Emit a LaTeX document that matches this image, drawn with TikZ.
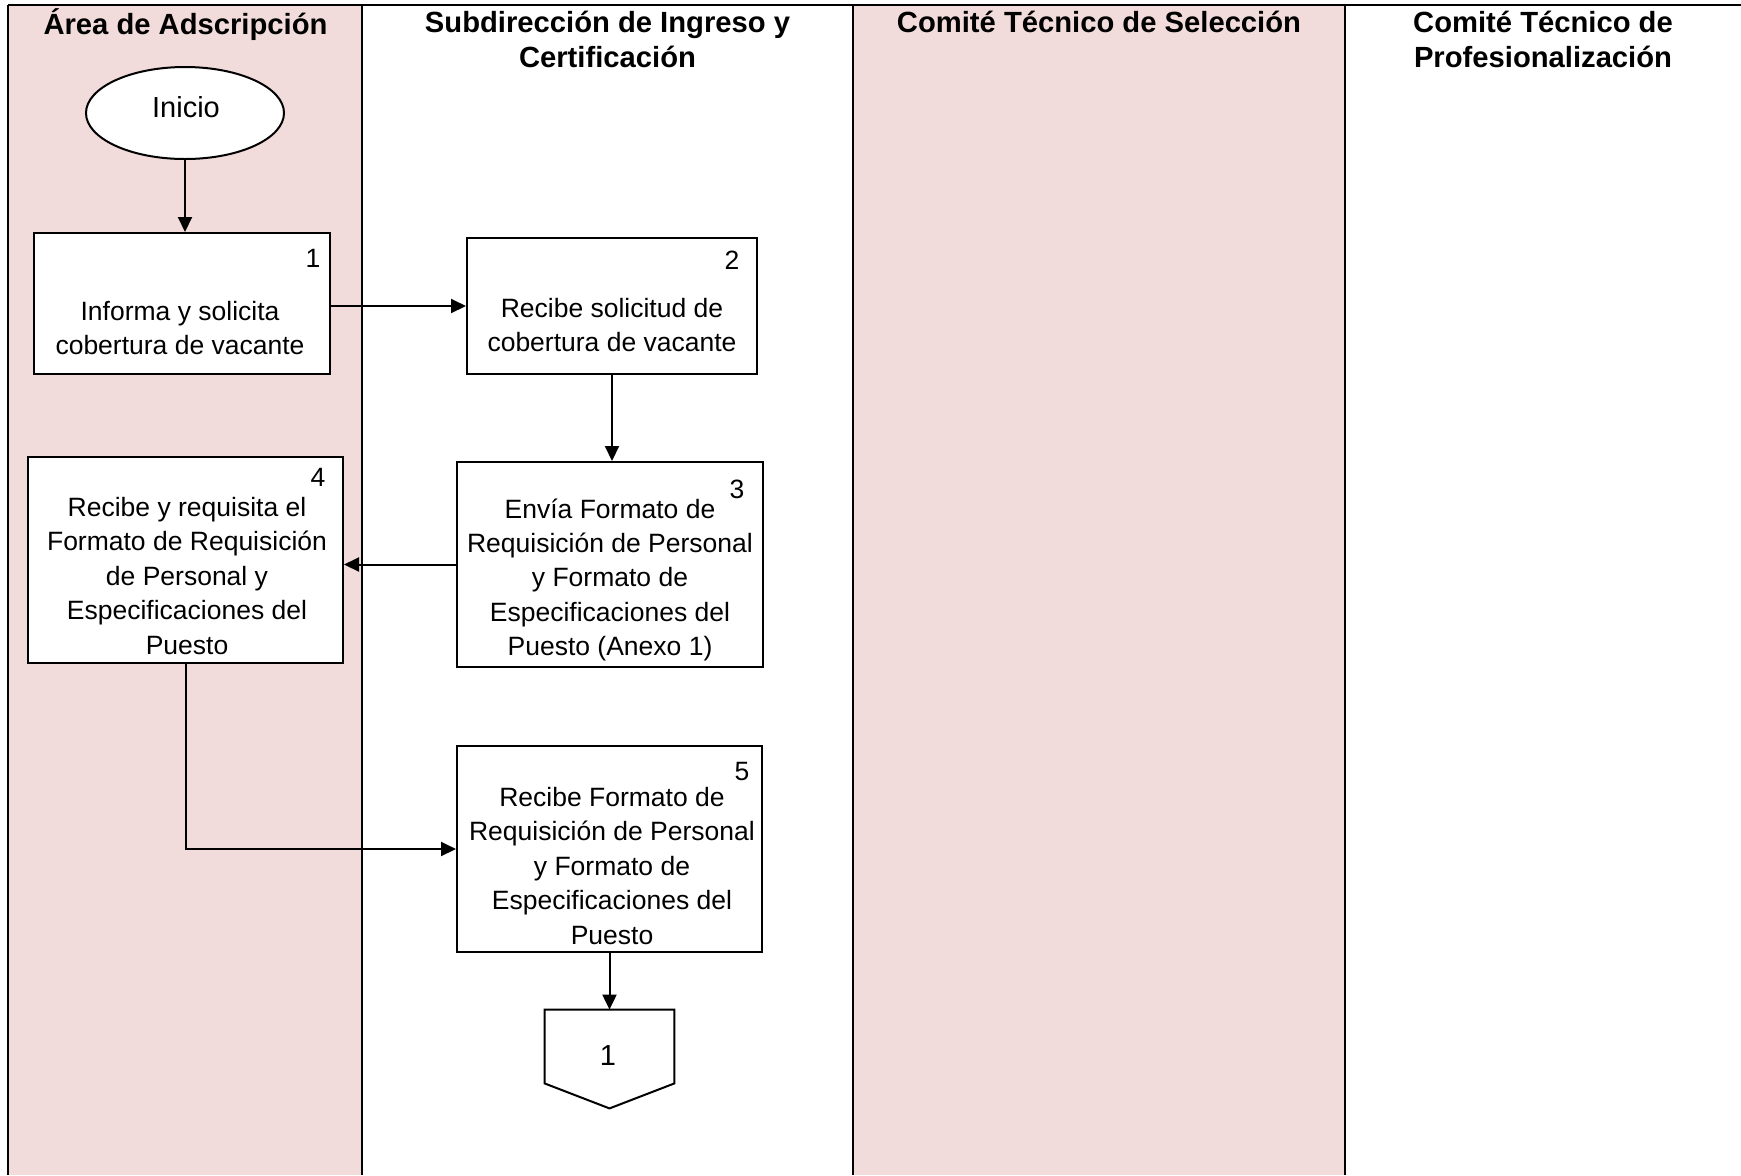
\documentclass[tikz,border=0pt]{standalone}
\usepackage{fontspec}
\setmainfont{Liberation Sans}
\usetikzlibrary{shapes.geometric,arrows.meta,calc}
\definecolor{lanepink}{HTML}{F2DCDB}

\begin{document}
\begin{tikzpicture}[x=0.5pt,y=-0.5pt,
  lane/.style={fill=lanepink,draw=none},
  laneline/.style={line width=1pt},
  hdr/.style={anchor=north,inner sep=0,align=center,font=\fontsize{14.6}{17.2}\selectfont\bfseries},
  proc/.style={draw,line width=1pt,fill=white,inner sep=0},
  txt/.style={anchor=north,inner sep=0,align=center,font=\fontsize{13.25}{17.2}\selectfont},
  num/.style={inner sep=0,font=\fontsize{13.25}{17.2}\selectfont},
  arr/.style={line width=1pt,-{Triangle[length=7.5pt,width=7pt]}}
]
\useasboundingbox[fill=white] (0,0) rectangle (1741,1175);

% swimlane backgrounds
\fill[lane] (8,5) rectangle (362,1175);
\fill[lane] (853,5) rectangle (1345,1175);
% swimlane rules
\draw[line width=1pt] (8,5) -- (1741,5);
\draw[laneline] (8,5) -- (8,1175);
\draw[laneline] (362,5) -- (362,1175);
\draw[laneline] (853,5) -- (853,1175);
\draw[laneline] (1345,5) -- (1345,1175);

% lane headings
\node[hdr] (h1) at (185.5,8.3) {\strut Área de Adscripción\strut};
\node[hdr] (h2) at (607.5,8.3) {\strut Subdirección de Ingreso y\\Certificación\strut};
\node[hdr] (h3) at (1099,8.3) {\strut Comité Técnico de Selección\strut};
\node[hdr] (h4) at (1543,8.3) {\strut Comité Técnico de\\Profesionalización\strut};

% start
\node[ellipse,draw,line width=1pt,fill=white,minimum width=99pt,minimum height=46pt,inner sep=0] (start) at (185,113) {};
\node[inner sep=0,font=\fontsize{14.5}{17.2}\selectfont] (startt) at (186,107) {Inicio};

% activity boxes
\node[proc,minimum width=148pt,minimum height=70.5pt] (b1) at (182,303.5) {};
\node[proc,minimum width=145pt,minimum height=68pt] (b2) at (612,306) {};
\node[proc,minimum width=153pt,minimum height=102.5pt] (b3) at (610,564.5) {};
\node[proc,minimum width=157.5pt,minimum height=103pt] (b4) at (185.5,560) {};
\node[proc,minimum width=152.5pt,minimum height=103pt] (b5) at (609.5,849) {};

% activity texts
\node[txt] (t1) at (180,296) {\strut Informa y solicita\\cobertura de vacante\strut};
\node[txt] (t2) at (612,293) {\strut Recibe solicitud de\\cobertura de vacante\strut};
\node[txt] (t3) at (610,493.6) {\strut Envía Formato de\\Requisición de Personal\\y Formato de\\Especificaciones del\\Puesto (Anexo 1)\strut};
\node[txt] (t4) at (187,492) {\strut Recibe y requisita el\\Formato de Requisición\\de Personal y\\Especificaciones del\\Puesto\strut};
\node[txt] (t5) at (612,782) {\strut Recibe Formato de\\Requisición de Personal\\y Formato de\\Especificaciones del\\Puesto\strut};

% step numbers
\node[num] (n1) at (313,258) {1};
\node[num] (n2) at (732,260) {2};
\node[num] (n3) at (737,489) {3};
\node[num] (n4) at (318,477) {4};
\node[num] (n5) at (742,771) {5};

% off-page connector
\node[minimum width=64.5pt,minimum height=36.5pt,inner sep=0] (c1) at (609.5,1046.5) {};
\draw[line width=1pt,fill=white] (c1.north west) -- (c1.north east) -- (c1.south east)
  -- ([yshift=-12.5pt]c1.south) -- (c1.south west) -- cycle;
\node[num,font=\fontsize{14.5}{17.2}\selectfont] (c1t) at (608,1056) {1};

% flow
\draw[arr] (start.south) -- (start.south |- b1.north);
\draw[arr] (b2.west -| b1.east) -- (b2.west);
\draw[arr] (b2.south) -- (b2.south |- b3.north);
\draw[arr] (b3.west) -- (b3.west -| b4.east);
\draw[arr] (b4.south) |- (b5.west);
\draw[arr] (b5.south) -- (b5.south |- c1.north);
\end{tikzpicture}
\end{document}
